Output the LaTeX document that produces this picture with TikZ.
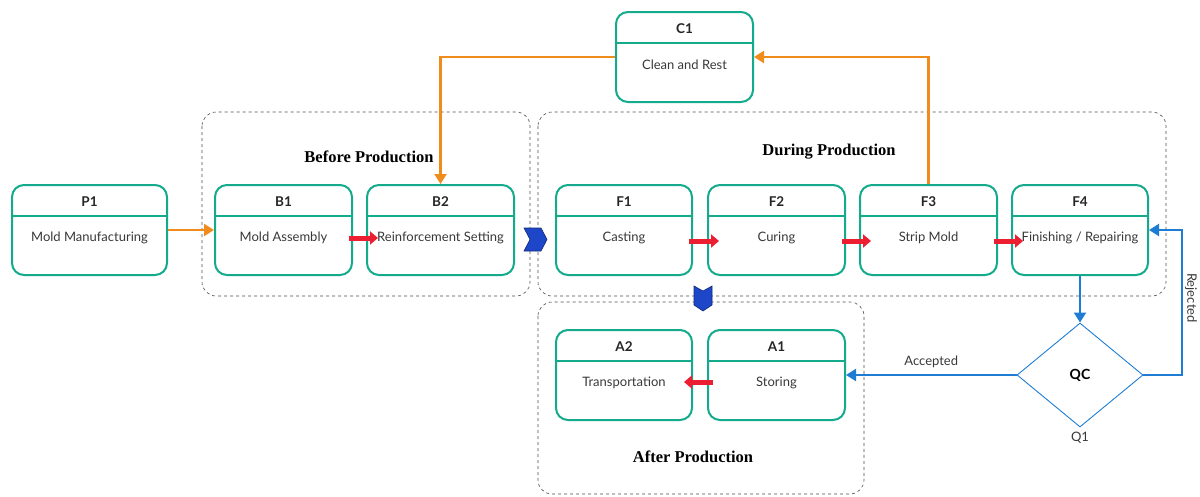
\documentclass[tikz,border=0pt]{standalone}
\usepackage{fontspec}
\setmainfont{Lato}
\newfontfamily\grpfont{Liberation Serif}
\usetikzlibrary{arrows.meta,shapes.geometric,calc}

\definecolor{boxteal}{RGB}{20,170,140}
\definecolor{flworange}{RGB}{240,140,30}
\definecolor{flwred}{RGB}{235,30,50}
\definecolor{flwblue}{RGB}{30,125,210}
\definecolor{chevblue}{RGB}{30,70,200}

\tikzset{
  stagebox/.style={draw=boxteal, line width=2pt, rounded corners=12pt, minimum height=90pt, inner sep=0pt},
  stagetitle/.style={font=\fontsize{13.5}{15}\selectfont\bfseries, text=black!85},
  stagetext/.style={font=\fontsize{13}{15}\selectfont, text=black!78},
  groupbox/.style={draw=black!70, dashed, rounded corners=14pt, line width=0.6pt},
  grouplabel/.style={font=\grpfont\fontsize{16.5}{18}\selectfont\bfseries},
  orangeflow/.style={draw=flworange, line width=2.2pt, -{Triangle[length=10pt,width=12pt]}},
  blueflow/.style={draw=flwblue, line width=2pt, -{Triangle[length=10pt,width=12pt]}},
  redflow/.style={draw=flwred, line width=5pt, -{Triangle[length=8pt,width=13pt]}},
  chevron/.style={fill=chevblue, draw=chevblue!60!black, line width=0.6pt},
}

% name, centre, width, title, text
\newcommand{\stagenode}[5]{%
  \node[stagebox, minimum width=#3pt] (#1) at (#2) {};
  \draw[boxteal, line width=2pt] ([yshift=-32pt]#1.north west) -- ([yshift=-32pt]#1.north east);
  \node[stagetitle] (#1-t) at ([yshift=-18pt]#1.north) {#4};
  \node[stagetext] (#1-b) at ([yshift=-54pt]#1.north) {#5};
}

\begin{document}
\begin{tikzpicture}[x=1pt,y=-1pt]
    \useasboundingbox (0,0) rectangle (1200,496);

    % groups
    \draw[groupbox] (202,112) rectangle (530,296);
    \draw[groupbox] (538,112) rectangle (1166,296);
    \draw[groupbox] (538,302) rectangle (864,494);
    \node[grouplabel] (gbefore) at (369,157) {Before Production};
    \node[grouplabel] (gduring) at (829,152) {During Production};
    \node[grouplabel] (gafter) at (693,457) {After Production};

    % stages
    \stagenode{p1}{89.5,230}{155}{P1}{Mold Manufacturing}
    \stagenode{b1}{283.5,230}{137}{B1}{Mold Assembly}
    \stagenode{b2}{440.5,230}{147}{B2}{Reinforcement Setting}
    \stagenode{f1}{624,230}{136}{F1}{Casting}
    \stagenode{f2}{776.5,230}{137}{F2}{Curing}
    \stagenode{f3}{928.5,230}{137}{F3}{Strip Mold}
    \stagenode{f4}{1080,230}{136}{F4}{Finishing / Repairing}
    \stagenode{c1}{684.5,57}{137}{C1}{Clean and Rest}
    \stagenode{a2}{624,375}{136}{A2}{Transportation}
    \stagenode{a1}{776.5,375}{137}{A1}{Storing}

    % quality check
    \node[diamond, draw=flwblue, line width=0.9pt, minimum width=126pt, minimum height=104pt, inner sep=0pt,
          font=\fontsize{14}{16}\selectfont\bfseries] (qc) at (1080,375) {QC};
    \node[stagetext] (q1) at (1080,438) {Q1};

    % orange flows
    \draw[orangeflow] (p1.east) -- (b1.west);
    \draw[orangeflow] (c1.west) -| (b2.north);
    \draw[orangeflow] (f3.north) |- (c1.east);

    % red flows
    \draw[redflow] ([xshift=-4pt,yshift=-8pt]b1.east) -- ([xshift=12pt,yshift=-8pt]b2.west);
    \draw[redflow] ([xshift=-4pt,yshift=-11pt]f1.east) -- ([xshift=12pt,yshift=-11pt]f2.west);
    \draw[redflow] ([xshift=-4pt,yshift=-11pt]f2.east) -- ([xshift=12pt,yshift=-11pt]f3.west);
    \draw[redflow] ([xshift=-4pt,yshift=-11pt]f3.east) -- ([xshift=12pt,yshift=-11pt]f4.west);
    \draw[redflow] ([xshift=6pt,yshift=-7pt]a1.west) -- ([xshift=-9pt,yshift=-7pt]a2.east);

    % blue flows
    \coordinate (rj) at (1182,375);
    \draw[blueflow] (f4.south) -- (qc.north);
    \draw[blueflow] (qc.west) -- node[stagetext, above=3pt] {Accepted} (a1.east);
    \draw[blueflow] (qc.east) -- (rj) |- (f4.east);
    \node[stagetext, rotate=-90] (rjl) at (1191,298) {Rejected};

    % chevrons
    \coordinate (chv1) at (535,239.5);
    \coordinate (chv2) at (703,298);
    \draw[chevron, shift={(chv1)}] (-11,-11.5) -- (6,-11.5) -- (12,0) -- (6,11.5) -- (-11,11.5) -- (-5,0) -- cycle;
    \draw[chevron, shift={(chv2)}] (-9,-12) -- (0,-7) -- (9,-12) -- (9,7) -- (0,13) -- (-9,7) -- cycle;
\end{tikzpicture}
\end{document}
